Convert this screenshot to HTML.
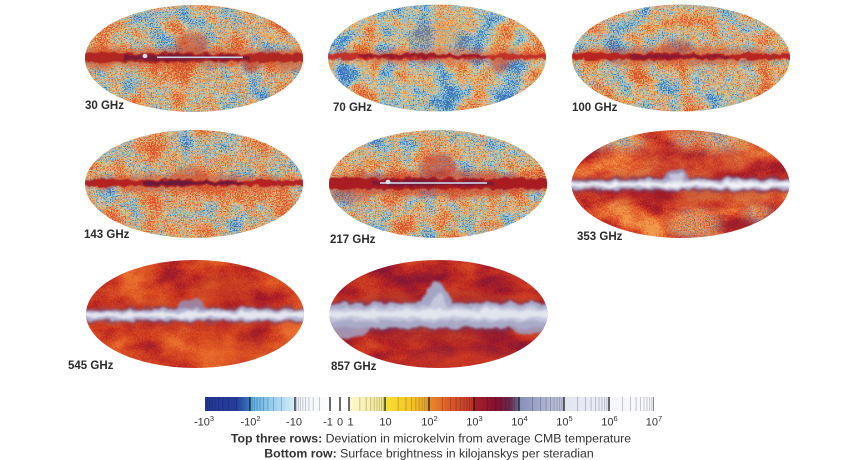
<!DOCTYPE html>
<html><head><meta charset="utf-8">
<style>
html,body{margin:0;padding:0;background:#fff;width:860px;height:460px;overflow:hidden}
svg{display:block}
.lb{font-family:"Liberation Sans",Arial,sans-serif;font-weight:bold;font-size:11.5px;fill:#2b2b2b}
.tk{font-family:"Liberation Sans",Arial,sans-serif;font-size:11px;fill:#333}
.lg{font-family:"Liberation Sans",Arial,sans-serif;font-size:12.3px;fill:#333}
</style></head><body>
<svg width="860" height="460" viewBox="0 0 860 460" xmlns="http://www.w3.org/2000/svg">
<defs>
<clipPath id="E1"><ellipse cx="0" cy="0" rx="109" ry="53.5"/></clipPath>
<clipPath id="E2"><ellipse cx="0" cy="0" rx="109" ry="54"/></clipPath>

<filter id="c1" color-interpolation-filters="sRGB" x="0" y="0" width="1" height="1">
<feTurbulence type="fractalNoise" baseFrequency="0.8" numOctaves="1" seed="11" result="f"/>
<feColorMatrix in="f" type="matrix" values="1 0 0 0 0 1 0 0 0 0 1 0 0 0 0 0 0 0 0 1" result="f2"/>
<feTurbulence type="fractalNoise" baseFrequency="0.04" numOctaves="3" seed="21" result="c"/>
<feColorMatrix in="c" type="matrix" values="1 0 0 0 0 1 0 0 0 0 1 0 0 0 0 0 0 0 0 1" result="c2"/>
<feComposite in="f2" in2="c2" operator="arithmetic" k2="0.6" k3="0.4"/>
<feColorMatrix type="matrix" values="3.6 0 0 0 -1.24 3.6 0 0 0 -1.24 3.6 0 0 0 -1.24 0 0 0 0 1"/>
<feComponentTransfer>
<feFuncR type="table" tableValues="0.227 0.353 0.612 0.863 0.941 0.91 0.847"/>
<feFuncG type="table" tableValues="0.435 0.659 0.796 0.812 0.667 0.502 0.333"/>
<feFuncB type="table" tableValues="0.722 0.847 0.847 0.604 0.345 0.251 0.188"/>
</feComponentTransfer>
</filter>
<filter id="c2" color-interpolation-filters="sRGB" x="0" y="0" width="1" height="1">
<feTurbulence type="fractalNoise" baseFrequency="0.8" numOctaves="1" seed="12" result="f"/>
<feColorMatrix in="f" type="matrix" values="1 0 0 0 0 1 0 0 0 0 1 0 0 0 0 0 0 0 0 1" result="f2"/>
<feTurbulence type="fractalNoise" baseFrequency="0.035" numOctaves="3" seed="32" result="c"/>
<feColorMatrix in="c" type="matrix" values="1 0 0 0 0 1 0 0 0 0 1 0 0 0 0 0 0 0 0 1" result="c2"/>
<feComposite in="f2" in2="c2" operator="arithmetic" k2="0.5" k3="0.5"/>
<feColorMatrix type="matrix" values="3.6 0 0 0 -1.34 3.6 0 0 0 -1.34 3.6 0 0 0 -1.34 0 0 0 0 1"/>
<feComponentTransfer>
<feFuncR type="table" tableValues="0.227 0.353 0.612 0.863 0.941 0.91 0.847"/>
<feFuncG type="table" tableValues="0.435 0.659 0.796 0.812 0.667 0.502 0.333"/>
<feFuncB type="table" tableValues="0.722 0.847 0.847 0.604 0.345 0.251 0.188"/>
</feComponentTransfer>
</filter>
<filter id="c3" color-interpolation-filters="sRGB" x="0" y="0" width="1" height="1">
<feTurbulence type="fractalNoise" baseFrequency="0.8" numOctaves="1" seed="13" result="f"/>
<feColorMatrix in="f" type="matrix" values="1 0 0 0 0 1 0 0 0 0 1 0 0 0 0 0 0 0 0 1" result="f2"/>
<feTurbulence type="fractalNoise" baseFrequency="0.04" numOctaves="3" seed="43" result="c"/>
<feColorMatrix in="c" type="matrix" values="1 0 0 0 0 1 0 0 0 0 1 0 0 0 0 0 0 0 0 1" result="c2"/>
<feComposite in="f2" in2="c2" operator="arithmetic" k2="0.6" k3="0.4"/>
<feColorMatrix type="matrix" values="3.6 0 0 0 -1.27 3.6 0 0 0 -1.27 3.6 0 0 0 -1.27 0 0 0 0 1"/>
<feComponentTransfer>
<feFuncR type="table" tableValues="0.227 0.353 0.612 0.863 0.941 0.91 0.847"/>
<feFuncG type="table" tableValues="0.435 0.659 0.796 0.812 0.667 0.502 0.333"/>
<feFuncB type="table" tableValues="0.722 0.847 0.847 0.604 0.345 0.251 0.188"/>
</feComponentTransfer>
</filter>
<filter id="c4" color-interpolation-filters="sRGB" x="0" y="0" width="1" height="1">
<feTurbulence type="fractalNoise" baseFrequency="0.8" numOctaves="1" seed="14" result="f"/>
<feColorMatrix in="f" type="matrix" values="1 0 0 0 0 1 0 0 0 0 1 0 0 0 0 0 0 0 0 1" result="f2"/>
<feTurbulence type="fractalNoise" baseFrequency="0.04" numOctaves="3" seed="54" result="c"/>
<feColorMatrix in="c" type="matrix" values="1 0 0 0 0 1 0 0 0 0 1 0 0 0 0 0 0 0 0 1" result="c2"/>
<feComposite in="f2" in2="c2" operator="arithmetic" k2="0.65" k3="0.35"/>
<feColorMatrix type="matrix" values="3.6 0 0 0 -1.2 3.6 0 0 0 -1.2 3.6 0 0 0 -1.2 0 0 0 0 1"/>
<feComponentTransfer>
<feFuncR type="table" tableValues="0.227 0.353 0.612 0.863 0.941 0.91 0.847"/>
<feFuncG type="table" tableValues="0.435 0.659 0.796 0.812 0.667 0.502 0.333"/>
<feFuncB type="table" tableValues="0.722 0.847 0.847 0.604 0.345 0.251 0.188"/>
</feComponentTransfer>
</filter>
<filter id="c5" color-interpolation-filters="sRGB" x="0" y="0" width="1" height="1">
<feTurbulence type="fractalNoise" baseFrequency="0.8" numOctaves="1" seed="15" result="f"/>
<feColorMatrix in="f" type="matrix" values="1 0 0 0 0 1 0 0 0 0 1 0 0 0 0 0 0 0 0 1" result="f2"/>
<feTurbulence type="fractalNoise" baseFrequency="0.04" numOctaves="3" seed="65" result="c"/>
<feColorMatrix in="c" type="matrix" values="1 0 0 0 0 1 0 0 0 0 1 0 0 0 0 0 0 0 0 1" result="c2"/>
<feComposite in="f2" in2="c2" operator="arithmetic" k2="0.6" k3="0.4"/>
<feColorMatrix type="matrix" values="3.6 0 0 0 -1.24 3.6 0 0 0 -1.24 3.6 0 0 0 -1.24 0 0 0 0 1"/>
<feComponentTransfer>
<feFuncR type="table" tableValues="0.227 0.353 0.612 0.863 0.941 0.91 0.847"/>
<feFuncG type="table" tableValues="0.435 0.659 0.796 0.812 0.667 0.502 0.333"/>
<feFuncB type="table" tableValues="0.722 0.847 0.847 0.604 0.345 0.251 0.188"/>
</feComponentTransfer>
</filter>
<filter id="c6" color-interpolation-filters="sRGB" x="0" y="0" width="1" height="1">
<feTurbulence type="fractalNoise" baseFrequency="0.8" numOctaves="1" seed="16" result="f"/>
<feColorMatrix in="f" type="matrix" values="1 0 0 0 0 1 0 0 0 0 1 0 0 0 0 0 0 0 0 1" result="f2"/>
<feTurbulence type="fractalNoise" baseFrequency="0.04" numOctaves="3" seed="76" result="c"/>
<feColorMatrix in="c" type="matrix" values="1 0 0 0 0 1 0 0 0 0 1 0 0 0 0 0 0 0 0 1" result="c2"/>
<feComposite in="f2" in2="c2" operator="arithmetic" k2="0.7" k3="0.3"/>
<feColorMatrix type="matrix" values="3.6 0 0 0 -1.22 3.6 0 0 0 -1.22 3.6 0 0 0 -1.22 0 0 0 0 1"/>
<feComponentTransfer>
<feFuncR type="table" tableValues="0.227 0.353 0.612 0.863 0.941 0.91 0.847"/>
<feFuncG type="table" tableValues="0.435 0.659 0.796 0.812 0.667 0.502 0.333"/>
<feFuncB type="table" tableValues="0.722 0.847 0.847 0.604 0.345 0.251 0.188"/>
</feComponentTransfer>
</filter>

<filter id="d3" color-interpolation-filters="sRGB" x="0" y="0" width="1" height="1">
<feTurbulence type="fractalNoise" baseFrequency="0.025 0.04" numOctaves="4" seed="5" result="c"/>
<feColorMatrix in="c" type="matrix" values="1 0 0 0 0 1 0 0 0 0 1 0 0 0 0 0 0 0 0 1" result="c2"/>
<feTurbulence type="fractalNoise" baseFrequency="0.7" numOctaves="1" seed="9" result="f"/>
<feColorMatrix in="f" type="matrix" values="1 0 0 0 0 1 0 0 0 0 1 0 0 0 0 0 0 0 0 1" result="f2"/>
<feComposite in="c2" in2="f2" operator="arithmetic" k2="0.7" k3="0.3"/>
<feColorMatrix type="matrix" values="2.8 0 0 0 -0.85 2.8 0 0 0 -0.85 2.8 0 0 0 -0.85 0 0 0 0 1"/>
<feComponentTransfer>
<feFuncR type="table" tableValues="0.604 0.722 0.816 0.878 0.918 0.941"/>
<feFuncG type="table" tableValues="0.11 0.157 0.251 0.345 0.455 0.604"/>
<feFuncB type="table" tableValues="0.173 0.149 0.157 0.173 0.204 0.298"/>
</feComponentTransfer>
</filter>
<filter id="d5" color-interpolation-filters="sRGB" x="0" y="0" width="1" height="1">
<feTurbulence type="fractalNoise" baseFrequency="0.025 0.04" numOctaves="4" seed="17" result="c"/>
<feColorMatrix in="c" type="matrix" values="1 0 0 0 0 1 0 0 0 0 1 0 0 0 0 0 0 0 0 1" result="c2"/>
<feTurbulence type="fractalNoise" baseFrequency="0.7" numOctaves="1" seed="19" result="f"/>
<feColorMatrix in="f" type="matrix" values="1 0 0 0 0 1 0 0 0 0 1 0 0 0 0 0 0 0 0 1" result="f2"/>
<feComposite in="c2" in2="f2" operator="arithmetic" k2="0.7" k3="0.3"/>
<feColorMatrix type="matrix" values="2.5 0 0 0 -0.72 2.5 0 0 0 -0.72 2.5 0 0 0 -0.72 0 0 0 0 1"/>
<feComponentTransfer>
<feFuncR type="table" tableValues="0.62 0.72 0.796 0.839 0.878 0.918"/>
<feFuncG type="table" tableValues="0.11 0.15 0.22 0.29 0.353 0.439"/>
<feFuncB type="table" tableValues="0.18 0.141 0.133 0.133 0.149 0.188"/>
</feComponentTransfer>
</filter>
<filter id="d8" color-interpolation-filters="sRGB" x="0" y="0" width="1" height="1">
<feTurbulence type="fractalNoise" baseFrequency="0.025 0.04" numOctaves="4" seed="27" result="c"/>
<feColorMatrix in="c" type="matrix" values="1 0 0 0 0 1 0 0 0 0 1 0 0 0 0 0 0 0 0 1" result="c2"/>
<feTurbulence type="fractalNoise" baseFrequency="0.7" numOctaves="1" seed="29" result="f"/>
<feColorMatrix in="f" type="matrix" values="1 0 0 0 0 1 0 0 0 0 1 0 0 0 0 0 0 0 0 1" result="f2"/>
<feComposite in="c2" in2="f2" operator="arithmetic" k2="0.7" k3="0.3"/>
<feColorMatrix type="matrix" values="2.8 0 0 0 -0.85 2.8 0 0 0 -0.85 2.8 0 0 0 -0.85 0 0 0 0 1"/>
<feComponentTransfer>
<feFuncR type="table" tableValues="0.53 0.62 0.69 0.757 0.8 0.835"/>
<feFuncG type="table" tableValues="0.094 0.11 0.137 0.176 0.227 0.29"/>
<feFuncB type="table" tableValues="0.2 0.18 0.15 0.133 0.133 0.149"/>
</feComponentTransfer>
</filter>

<filter id="fl" x="-10%" y="-60%" width="120%" height="220%" color-interpolation-filters="sRGB">
<feTurbulence type="fractalNoise" baseFrequency="0.12" numOctaves="3" seed="4" result="t"/>
<feDisplacementMap in="SourceGraphic" in2="t" scale="7" xChannelSelector="R" yChannelSelector="G"/>
<feGaussianBlur stdDeviation="0.5"/>
</filter>
<filter id="fb" x="-30%" y="-80%" width="160%" height="260%" color-interpolation-filters="sRGB">
<feTurbulence type="fractalNoise" baseFrequency="0.1" numOctaves="3" seed="6" result="t"/>
<feDisplacementMap in="SourceGraphic" in2="t" scale="10" xChannelSelector="R" yChannelSelector="G"/>
<feGaussianBlur stdDeviation="2.2"/>
</filter>
<filter id="fl2" x="-10%" y="-60%" width="120%" height="220%" color-interpolation-filters="sRGB">
<feTurbulence type="fractalNoise" baseFrequency="0.09" numOctaves="4" seed="8" result="t"/>
<feDisplacementMap in="SourceGraphic" in2="t" scale="8" xChannelSelector="R" yChannelSelector="G"/>
<feGaussianBlur stdDeviation="1.1"/>
</filter>
<filter id="bl" x="-40%" y="-80%" width="180%" height="260%"><feGaussianBlur stdDeviation="5"/></filter>

<mask id="m353">
<g filter="url(#bl)" fill="#fff">
<ellipse cx="33" cy="-46" rx="42" ry="14"/>
<ellipse cx="-62" cy="-42" rx="30" ry="9"/>
<ellipse cx="15" cy="40" rx="26" ry="14"/>
<ellipse cx="78" cy="30" rx="14" ry="9"/>
</g>
</mask>

<linearGradient id="cb" x1="205" y1="0" x2="654" y2="0" gradientUnits="userSpaceOnUse">
<stop offset="0" stop-color="#233893"/>
<stop offset="0.07" stop-color="#243c98"/>
<stop offset="0.1" stop-color="#3478c0"/>
<stop offset="0.1" stop-color="#58aee0"/>
<stop offset="0.2" stop-color="#d6edf8"/>
<stop offset="0.2" stop-color="#f2f5f8"/>
<stop offset="0.2784" stop-color="#fbfcfc"/>
<stop offset="0.2784" stop-color="#ffffff"/>
<stop offset="0.3207" stop-color="#ffffff"/>
<stop offset="0.3207" stop-color="#fcf7cf"/>
<stop offset="0.4009" stop-color="#f5e98c"/>
<stop offset="0.4009" stop-color="#f8df38"/>
<stop offset="0.46" stop-color="#f4c424"/>
<stop offset="0.4989" stop-color="#eda02a"/>
<stop offset="0.4989" stop-color="#ec8a26"/>
<stop offset="0.55" stop-color="#d85428"/>
<stop offset="0.5991" stop-color="#c43424"/>
<stop offset="0.5991" stop-color="#a81e28"/>
<stop offset="0.65" stop-color="#82102e"/>
<stop offset="0.68" stop-color="#6c2a4c"/>
<stop offset="0.6993" stop-color="#707098"/>
<stop offset="0.6993" stop-color="#868eb8"/>
<stop offset="0.7996" stop-color="#c4c8de"/>
<stop offset="0.7996" stop-color="#e2e4f1"/>
<stop offset="0.8998" stop-color="#eceef6"/>
<stop offset="0.8998" stop-color="#f6f7fb"/>
<stop offset="1" stop-color="#f7f8fb"/>
</linearGradient>
</defs>

<rect width="860" height="460" fill="#fff"/>

<!-- 30 GHz -->
<g transform="translate(194,58.5)" clip-path="url(#E1)">
<rect x="-110" y="-55" width="220" height="110" filter="url(#c1)"/>
<g filter="url(#fb)">
<ellipse cx="-95" cy="0" rx="22" ry="12" fill="#d8582c" opacity="0.6"/>
<ellipse cx="95" cy="2" rx="22" ry="12" fill="#d8582c" opacity="0.6"/>
<ellipse cx="-3" cy="-15" rx="16" ry="11" fill="#c83a24" opacity="0.5"/>
<ellipse cx="57" cy="6" rx="8" ry="8" fill="#c03024" opacity="0.6"/>
<ellipse cx="0" cy="-1" rx="112" ry="10" fill="#d04a28" opacity="0.5"/>
</g>
<g filter="url(#fl)">
<rect x="-112" y="-5.5" width="224" height="9" fill="#b02420" opacity="0.95"/>
<rect x="-70" y="-3.5" width="125" height="5" fill="#7a1a34"/>
</g>
<rect x="-37" y="-2" width="86" height="1.6" fill="#d0d0e4"/>
<ellipse cx="-49" cy="-2.5" rx="2.5" ry="2.2" fill="#dcdcec"/>
</g>

<!-- 70 GHz -->
<g transform="translate(437,58)" clip-path="url(#E1)">
<rect x="-110" y="-55" width="220" height="110" filter="url(#c2)"/>
<ellipse cx="0" cy="-22" rx="32" ry="14" fill="#e88a40" opacity="0.3" filter="url(#bl)"/>
<g filter="url(#fb)">
<ellipse cx="0" cy="-2" rx="112" ry="7" fill="#d85030" opacity="0.5"/>
<ellipse cx="63" cy="7" rx="8" ry="8" fill="#d04a2a" opacity="0.6"/>
</g>
<g filter="url(#fl)">
<rect x="-112" y="-4" width="224" height="5" fill="#c02a22" opacity="0.9"/>
<rect x="-77" y="-3.5" width="127" height="3" fill="#9a1a2a"/>
</g>
</g>

<!-- 100 GHz -->
<g transform="translate(681,58)" clip-path="url(#E1)">
<rect x="-110" y="-55" width="220" height="110" filter="url(#c3)"/>
<g filter="url(#fb)">
<ellipse cx="0" cy="-2" rx="112" ry="9" fill="#d04a28" opacity="0.55"/>
<ellipse cx="-5" cy="-12" rx="16" ry="7" fill="#c84028" opacity="0.45"/>
</g>
<g filter="url(#fl)">
<rect x="-112" y="-4.5" width="224" height="6" fill="#b82420"/>
<rect x="-51" y="-3" width="100" height="3" fill="#8a1a30"/>
</g>
</g>

<!-- 143 GHz -->
<g transform="translate(194,184)" clip-path="url(#E2)">
<rect x="-110" y="-55" width="220" height="110" filter="url(#c4)"/>
<g filter="url(#fb)">
<ellipse cx="0" cy="-1" rx="112" ry="9" fill="#d04a28" opacity="0.55"/>
<ellipse cx="-2" cy="-11" rx="18" ry="7" fill="#cc4428" opacity="0.4"/>
</g>
<g filter="url(#fl)">
<rect x="-112" y="-4" width="224" height="6" fill="#b42222"/>
<rect x="-51" y="-2.5" width="100" height="3" fill="#6a1a3a"/>
</g>
</g>

<!-- 217 GHz -->
<g transform="translate(438,184)" clip-path="url(#E2)">
<rect x="-110" y="-55" width="220" height="110" filter="url(#c5)"/>
<g filter="url(#fb)">
<ellipse cx="0" cy="0" rx="112" ry="13" fill="#c83a24" opacity="0.6"/>
<ellipse cx="0" cy="-19" rx="18" ry="12" fill="#c03024" opacity="0.55"/>
<ellipse cx="-90" cy="10" rx="20" ry="10" fill="#cc4428" opacity="0.4"/>
</g>
<g filter="url(#fl)">
<rect x="-112" y="-6" width="224" height="11" fill="#a81c22"/>
<rect x="-65" y="-3.5" width="120" height="5" fill="#7a1a34"/>
</g>
<rect x="-58" y="-1.8" width="107" height="1.6" fill="#d4d4e6"/>
<ellipse cx="-50" cy="-2" rx="2.5" ry="2.2" fill="#e0e0ee"/>
</g>

<!-- 353 GHz -->
<g transform="translate(680.5,184)" clip-path="url(#E2)">
<rect x="-110" y="-55" width="220" height="110" filter="url(#d3)"/>
<rect x="-110" y="-55" width="220" height="110" filter="url(#c6)" mask="url(#m353)" opacity="0.8"/>
<g filter="url(#bl)">
<ellipse cx="0" cy="3" rx="112" ry="18" fill="#a81c28" opacity="0.45"/>
<ellipse cx="-10" cy="-25" rx="30" ry="12" fill="#a81c28" opacity="0.35"/>
<ellipse cx="60" cy="-20" rx="35" ry="10" fill="#a81c28" opacity="0.3"/>
</g>
<g filter="url(#fl2)">
<rect x="-115" y="-7" width="230" height="15" fill="#7a3a60" opacity="0.7"/>
<path d="M-18 0 C-16 -10 -10 -16 -4 -17 C3 -16 8 -10 10 0 Z" fill="#9a8ab0"/>
<rect x="-115" y="-4.5" width="230" height="10" fill="#aeb0cc"/>
<ellipse cx="-4" cy="-7" rx="8" ry="5" fill="#c4c4dc"/>
<rect x="-115" y="-2" width="230" height="5" fill="#dcdce8"/>
<rect x="-115" y="-0.5" width="230" height="2.5" fill="#f2f2f8"/>
</g>
</g>

<!-- 545 GHz -->
<g transform="translate(195,314)" clip-path="url(#E2)">
<rect x="-110" y="-55" width="220" height="110" filter="url(#d5)"/>
<g filter="url(#bl)">
<ellipse cx="0" cy="1" rx="112" ry="18" fill="#b02424" opacity="0.3"/>
<ellipse cx="30" cy="-28" rx="35" ry="14" fill="#a82028" opacity="0.25"/>
<ellipse cx="40" cy="40" rx="40" ry="13" fill="#e8682a" opacity="0.4"/>
</g>
<g filter="url(#fl2)">
<rect x="-115" y="-7" width="230" height="16" fill="#7a4a70" opacity="0.65"/>
<path d="M-20 0 C-18 -9 -12 -16 -3 -17 C6 -16 11 -9 13 0 Z" fill="#9a8aac" opacity="0.9"/>
<rect x="-115" y="-4.5" width="230" height="11" fill="#b0b2ce"/>
<rect x="-115" y="-1.5" width="230" height="5" fill="#e6e6f0"/>
</g>
</g>

<!-- 857 GHz -->
<g transform="translate(438.5,314)" clip-path="url(#E2)">
<rect x="-110" y="-55" width="220" height="110" filter="url(#d8)"/>
<g filter="url(#bl)">
<ellipse cx="0" cy="2" rx="112" ry="26" fill="#8a1830" opacity="0.35"/>
<ellipse cx="20" cy="46" rx="55" ry="12" fill="#d04028" opacity="0.4"/>
</g>
<g filter="url(#fl2)">
<rect x="-115" y="-13" width="230" height="30" fill="#7a3a5c" opacity="0.65"/>
<ellipse cx="-90" cy="10" rx="25" ry="14" fill="#a4a6c4" opacity="0.85"/>
<ellipse cx="90" cy="9" rx="22" ry="11" fill="#a4a6c4" opacity="0.85"/>
<path d="M-20 0 C-18 -14 -10 -30 -2 -33 C6 -31 12 -16 16 0 Z" fill="#a4a6c4"/>
<rect x="-115" y="-11" width="230" height="25" fill="#a8aac8"/>
<path d="M-11 0 C-9 -10 -5 -20 0 -21 C5 -19 8 -10 9 0 Z" fill="#c4c6dc"/>
<rect x="-115" y="-7" width="230" height="14" fill="#c4c6dc"/>
<rect x="-115" y="-3.5" width="230" height="7" fill="#e2e4ee"/>
</g>
</g>

<!-- labels -->
<text class="lb" x="85" y="109">30 GHz</text>
<text class="lb" x="333" y="111">70 GHz</text>
<text class="lb" x="572" y="111">100 GHz</text>
<text class="lb" x="84" y="238">143 GHz</text>
<text class="lb" x="330" y="243">217 GHz</text>
<text class="lb" x="577" y="240">353 GHz</text>
<text class="lb" x="68" y="369">545 GHz</text>
<text class="lb" x="331" y="370">857 GHz</text>

<!-- colorbar -->
<rect x="205" y="397" width="449" height="14" fill="url(#cb)"/>
<g stroke="rgba(20,20,60,0.22)" stroke-width="1">
<path d="M207.1 397V411M209.6 397V411M212 397V411M215 397V411M218.5 397V411M222.9 397V411M228.5 397V411M236.5 397V411
M252.1 397V411M254.4 397V411M257 397V411M260 397V411M263.5 397V411M267.9 397V411M273.5 397V411M281.5 397V411
M296.6 397V411M298.4 397V411M300.4 397V411M302.8 397V411M305.5 397V411M308.9 397V411M313.3 397V411M319.5 397V411
M359.8 397V411M366.2 397V411M370.7 397V411M374.2 397V411M377 397V411M379.4 397V411M381.5 397V411M383.3 397V411
M398.2 397V411M406 397V411M411.5 397V411M415.8 397V411M419.2 397V411M422.2 397V411M424.7 397V411M427 397V411
M442.5 397V411M450.5 397V411M456.1 397V411M460.5 397V411M464 397V411M467 397V411M469.6 397V411M471.9 397V411
M487.5 397V411M495.5 397V411M501.1 397V411M505.5 397V411M509 397V411M512 397V411M514.6 397V411M516.9 397V411
M532.5 397V411M540.5 397V411M546.1 397V411M550.5 397V411M554 397V411M557 397V411M559.6 397V411M561.9 397V411
M577.5 397V411M585.5 397V411M591.1 397V411M595.5 397V411M599 397V411M602 397V411M604.6 397V411M606.9 397V411
M622.5 397V411M630.5 397V411M636.1 397V411M640.5 397V411M644 397V411M647 397V411M649.6 397V411M651.9 397V411"/>
</g>
<g stroke="#1a1a1a" stroke-width="1.3">
<path d="M250 397V411M295 397V411M330 397V411M340 397V411M349 397V411M385 397V411M429 397V411M474 397V411M519 397V411M564 397V411M609 397V411"/>
</g>
<path d="M653.5 397V411" stroke="#888" stroke-width="1"/>

<g class="tk" text-anchor="middle">
<text x="204" y="425.5">-10<tspan font-size="7.5" dy="-4.5">3</tspan></text>
<text x="250.5" y="425.5">-10<tspan font-size="7.5" dy="-4.5">2</tspan></text>
<text x="294" y="425.5">-10</text>
<text x="328" y="425.5">-1</text>
<text x="340" y="425.5">0</text>
<text x="350.5" y="425.5">1</text>
<text x="385.5" y="425.5">10</text>
<text x="429.5" y="425.5">10<tspan font-size="7.5" dy="-4.5">2</tspan></text>
<text x="474.5" y="425.5">10<tspan font-size="7.5" dy="-4.5">3</tspan></text>
<text x="519.5" y="425.5">10<tspan font-size="7.5" dy="-4.5">4</tspan></text>
<text x="564.5" y="425.5">10<tspan font-size="7.5" dy="-4.5">5</tspan></text>
<text x="609.5" y="425.5">10<tspan font-size="7.5" dy="-4.5">6</tspan></text>
<text x="654" y="425.5">10<tspan font-size="7.5" dy="-4.5">7</tspan></text>
</g>

<text class="lg" x="431" y="442.5" text-anchor="middle"><tspan font-weight="bold">Top three rows:</tspan> Deviation in microkelvin from average CMB temperature</text>
<text class="lg" x="429" y="457.5" text-anchor="middle"><tspan font-weight="bold">Bottom row:</tspan> Surface brightness in kilojanskys per steradian</text>
</svg>
</body></html>
